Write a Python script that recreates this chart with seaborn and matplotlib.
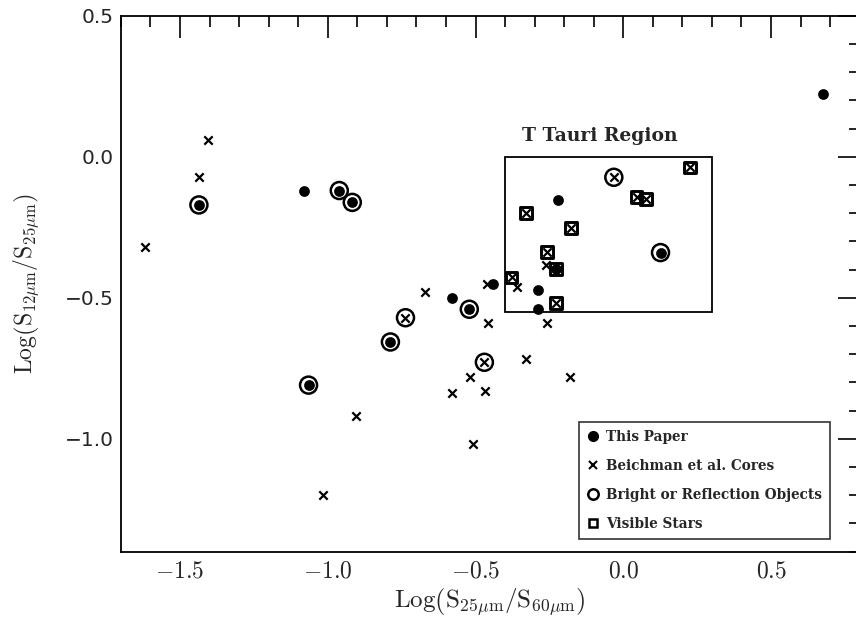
import matplotlib
matplotlib.use("Agg")
import matplotlib.pyplot as plt
import seaborn as sns
from matplotlib.lines import Line2D
from matplotlib.patches import Rectangle
from matplotlib.ticker import MultipleLocator, FixedLocator

# ---------------- data ----------------
# This Paper (filled dots)
paper_x = [-1.079, -1.436, -0.961, -0.917, -0.580, -0.521, -0.788, -1.065,
           -0.442, -0.220, -0.290, -0.290, -0.229, 0.126, 0.676]
paper_y = [-0.120, -0.171, -0.120, -0.162, -0.500, -0.541, -0.657, -0.810,
           -0.451, -0.154, -0.473, -0.541, -0.399, -0.340, 0.221]

# Beichman et al. cores (crosses)
beich_x = [-1.406, -1.436, -1.618, -0.672, -0.462, -0.459, -0.259, -0.329,
           -0.518, -0.181, -0.579, -0.468, -0.906, -0.508, -1.017, -0.360,
           -0.262,
           -0.737, -0.470, -0.032,
           0.227, 0.045, 0.078, -0.329, -0.178, -0.259, -0.378, -0.228]
beich_y = [0.059, -0.071, -0.319, -0.481, -0.451, -0.591, -0.591, -0.719,
           -0.780, -0.780, -0.839, -0.831, -0.918, -1.019, -1.201, -0.461,
           -0.384,
           -0.571, -0.729, -0.073,
           -0.038, -0.142, -0.151, -0.201, -0.252, -0.339, -0.428, -0.520]

# Bright or reflection objects (open circles)
bright_x = [-1.436, -0.961, -0.917, -0.521, -0.788, -1.065, 0.126,
            -0.737, -0.470, -0.032]
bright_y = [-0.171, -0.120, -0.162, -0.541, -0.657, -0.810, -0.340,
            -0.571, -0.729, -0.073]

# Visible stars (open squares)
star_x = [0.227, 0.045, 0.078, -0.329, -0.178, -0.259, -0.378, -0.228, -0.229]
star_y = [-0.038, -0.142, -0.151, -0.201, -0.252, -0.339, -0.428, -0.520, -0.399]

# T Tauri region box
ttauri_x = [-0.40, 0.30]
ttauri_y = [-0.55, 0.00]
ttauri_label = "T Tauri Region"

# axes
xlim = [-1.7, 0.8]
ylim = [-1.4, 0.5]
xticks = [-1.5, -1.0, -0.5, 0.0, 0.5]
xticklabels = [r"$-1.5$", r"$-1.0$", r"$-0.5$", r"$0.0$", r"$0.5$"]
yticks = [-1.0, -0.5, 0.0, 0.5]
yticklabels = ["\u22121.0", "\u22120.5", "0.0", "0.5"]
xlabel = r"$\mathrm{Log}\left(\mathrm{S}_{25\mu\mathrm{m}}/\mathrm{S}_{60\mu\mathrm{m}}\right)$"
ylabel = r"$\mathrm{Log}\left(\mathrm{S}_{12\mu\mathrm{m}}/\mathrm{S}_{25\mu\mathrm{m}}\right)$"

legend_labels = ["This Paper", "Beichman et al. Cores",
                 "Bright or Reflection Objects", "Visible Stars"]

# ---------------- style ----------------
sns.set_style("white")
plt.rcParams["font.family"] = ["DejaVu Serif"]
plt.rcParams["mathtext.fontset"] = "cm"

W, H = 856, 623
fig = plt.figure(figsize=(W / 100, H / 100), dpi=100)
left, right, top, bottom = 120.9, 859.7, 15.7, 551.5
ax = fig.add_axes([left / W, 1 - bottom / H, (right - left) / W, (bottom - top) / H])

# ---------------- marks ----------------
sns.scatterplot(x=beich_x, y=beich_y, marker="x", color="black", s=36,
                linewidth=1.6, ax=ax, zorder=3)
sns.scatterplot(x=paper_x, y=paper_y, marker="o", color="black", s=60,
                linewidth=0, ax=ax, zorder=4)
sns.scatterplot(x=bright_x, y=bright_y, marker="o", facecolor="none",
                edgecolor="black", s=150, linewidth=1.8, ax=ax, zorder=5)
sns.scatterplot(x=star_x, y=star_y, marker="s", facecolor="none",
                edgecolor="black", s=72, linewidth=2.1, ax=ax, zorder=5)

ax.add_patch(Rectangle((ttauri_x[0], ttauri_y[0]), ttauri_x[1] - ttauri_x[0],
                       ttauri_y[1] - ttauri_y[0], fill=False,
                       edgecolor="black", linewidth=1.3, zorder=2))
ax.text((ttauri_x[0] + ttauri_x[1]) / 2 - 0.03, ttauri_y[1] + 0.073, ttauri_label,
        ha="center", va="center", fontsize=13.5, fontweight="bold",
        family="DejaVu Serif")

# ---------------- axes ----------------
ax.set_xlim(xlim)
ax.set_ylim(ylim)
ax.xaxis.set_major_locator(FixedLocator(xticks))
ax.set_xticklabels(xticklabels, fontsize=17)
ax.yaxis.set_major_locator(FixedLocator(yticks))
ax.set_yticklabels(yticklabels, fontsize=14.5, family="DejaVu Sans")
ax.xaxis.set_minor_locator(MultipleLocator(0.1))
ax.yaxis.set_minor_locator(MultipleLocator(0.1))
ax.tick_params(which="both", direction="in", top=True, right=True,
               width=1.2, color="black")
ax.tick_params(axis="x", which="major", length=16, pad=6)
ax.tick_params(axis="y", which="major", length=16, pad=5)
ax.tick_params(which="minor", length=8)
for sp in ax.spines.values():
    sp.set_linewidth(1.3)
    sp.set_color("black")

ax.set_xlabel(xlabel, fontsize=18, labelpad=2)
ax.set_ylabel(ylabel, fontsize=17)
ax.yaxis.set_label_coords((42 - left) / (right - left), 0.5)

# ---------------- legend ----------------
handles = [
    Line2D([], [], marker="o", linestyle="none", color="black", markersize=7),
    Line2D([], [], marker="x", linestyle="none", color="black", markersize=6,
           markeredgewidth=1.5),
    Line2D([], [], marker="o", linestyle="none", markerfacecolor="none",
           markeredgecolor="black", markersize=7.5, markeredgewidth=1.8),
    Line2D([], [], marker="s", linestyle="none", markerfacecolor="none",
           markeredgecolor="black", markersize=5.5, markeredgewidth=1.8),
]
leg = ax.legend(handles, legend_labels, loc="upper left",
                bbox_to_anchor=(-0.150, -0.94), bbox_transform=ax.transData,
                borderaxespad=0, frameon=True, fancybox=False,
                prop={"family": "DejaVu Serif", "weight": "bold", "size": 9.8},
                handlelength=0.8, handletextpad=0.6, labelspacing=1.1,
                borderpad=0.6)
leg.get_frame().set_edgecolor("black")
leg.get_frame().set_linewidth(1.2)

fig.savefig("out.png", dpi=100)
